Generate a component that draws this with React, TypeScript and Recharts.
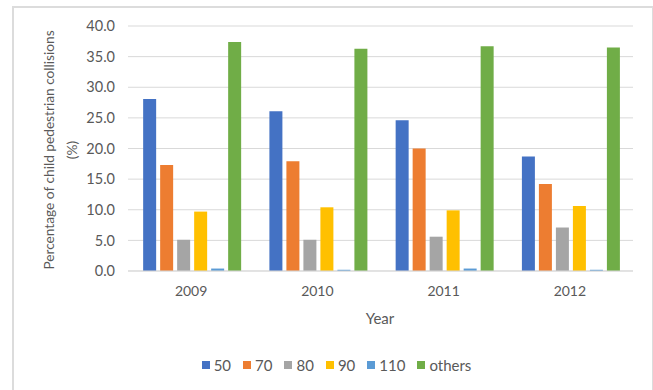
import React from 'react';
import { BarChart, Bar, XAxis, YAxis, CartesianGrid, Legend } from 'recharts';

// Share of child pedestrian collisions by speed limit (km/h), per year
const years = ['2009', '2010', '2011', '2012'];
const s50 = [28.1, 26.1, 24.6, 18.7];
const s70 = [17.3, 17.9, 20.0, 14.2];
const s80 = [5.1, 5.1, 5.6, 7.1];
const s90 = [9.7, 10.4, 9.9, 10.6];
const s110 = [0.4, 0.2, 0.4, 0.2];
const others = [37.4, 36.3, 36.7, 36.5];
const yTicks = [0, 5, 10, 15, 20, 25, 30, 35, 40];

const seriesDefs = [
  { key: 's50', name: '50', color: '#4472C4', values: s50 },
  { key: 's70', name: '70', color: '#ED7D31', values: s70 },
  { key: 's80', name: '80', color: '#A5A5A5', values: s80 },
  { key: 's90', name: '90', color: '#FFC000', values: s90 },
  { key: 's110', name: '110', color: '#5B9BD5', values: s110 },
  { key: 'others', name: 'others', color: '#70AD47', values: others },
];

const data = years.map((year, i) => {
  const row: Record<string, string | number> = { year };
  seriesDefs.forEach((s) => {
    row[s.key] = s.values[i];
  });
  return row;
});

const FONT = 'Lato, "Liberation Sans", sans-serif';
const TEXT = '#595959';

const YTitle = () => (
  <g>
    <text
      x={0}
      y={0}
      transform="translate(48 150) rotate(-90)"
      textAnchor="middle"
      fontFamily={FONT}
      fontSize={13.7}
      fill={TEXT}
      dominantBaseline="central"
    >
      Percentage of child pedestrian collisions
    </text>
    <text
      x={0}
      y={0}
      transform="translate(71 150) rotate(-90)"
      textAnchor="middle"
      fontFamily={FONT}
      fontSize={13.7}
      fill={TEXT}
      dominantBaseline="central"
    >
      (%)
    </text>
  </g>
);

const XTitle = () => (
  <text
    x={380}
    y={318}
    textAnchor="middle"
    fontFamily={FONT}
    fontSize={15}
    fill={TEXT}
    dominantBaseline="central"
  >
    Year
  </text>
);

const LegendContent = () => (
  <div
    style={{
      display: 'flex',
      justifyContent: 'center',
      alignItems: 'center',
      fontFamily: FONT,
      fontSize: 15,
      color: TEXT,
      gap: 12,
      paddingLeft: 20,
    }}
  >
    {seriesDefs.map((s) => (
      <div key={s.key} style={{ display: 'flex', alignItems: 'center', gap: 4 }}>
        <span style={{ display: 'inline-block', width: 8, height: 8, background: s.color }} />
        <span>{s.name}</span>
      </div>
    ))}
  </div>
);

export default function App() {
  return (
    <div style={{ position: 'absolute', left: 0, top: 0, width: 653, height: 390, background: '#fff' }}>
      <div
        style={{
          position: 'absolute',
          left: 12,
          top: 6,
          width: 638,
          height: 384,
          borderTop: '2px solid #DCDCDC',
          borderLeft: '2px solid #DCDCDC',
          borderRight: '2px solid #DCDCDC',
        }}
      />
      <div style={{ position: 'absolute', left: 0, top: 0 }}>
        <BarChart
          width={653}
          height={390}
          data={data}
          margin={{ top: 26, right: 20, bottom: 73, left: 0 }}
          barCategoryGap="12%"
          barGap={4}
        >
          <CartesianGrid horizontal vertical={false} stroke="#D9D9D9" />
          <XAxis
            dataKey="year"
            height={30}
            axisLine={{ stroke: '#D9D9D9' }}
            tickLine={false}
            tickSize={0}
            tickMargin={15}
            tick={{ fontFamily: FONT, fontSize: 14, fill: TEXT }}
            label={<XTitle />}
          />
          <YAxis
            width={128}
            domain={[0, 40]}
            ticks={yTicks}
            interval={0}
            axisLine={false}
            tickLine={false}
            tickSize={0}
            tickMargin={13}
            tickFormatter={(v: number) => v.toFixed(1)}
            tick={{ fontFamily: FONT, fontSize: 14.5, fill: TEXT }}
            label={<YTitle />}
          />
          <Legend
            verticalAlign="bottom"
            height={16}
            content={<LegendContent />}
            wrapperStyle={{ top: 356, left: 0, width: 653 }}
          />
          {seriesDefs.map((s) => (
            <Bar key={s.key} dataKey={s.key} name={s.name} fill={s.color} isAnimationActive={false} />
          ))}
        </BarChart>
      </div>
    </div>
  );
}
